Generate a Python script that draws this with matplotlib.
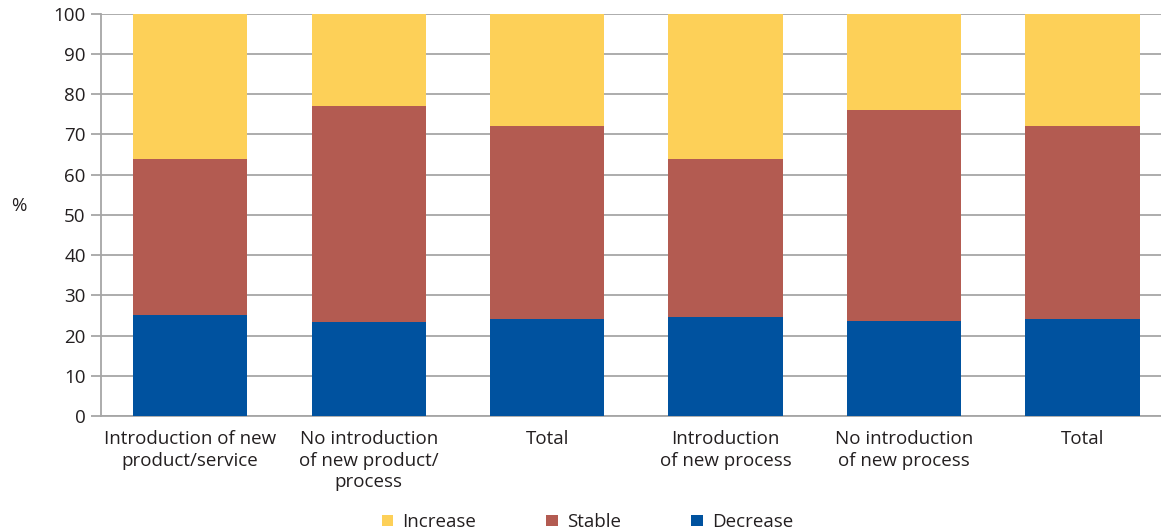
import matplotlib.pyplot as plt
import numpy as np

plt.rcParams['font.family'] = ['Open Sans', 'DejaVu Sans']

categories = ['Introduction of new\nproduct/service',
              'No introduction\nof new product/\nprocess',
              'Total',
              'Introduction\nof new process',
              'No introduction\nof new process',
              'Total']
decrease = [25, 23.5, 24, 24.5, 23.7, 24]
stable = [39, 53.5, 48, 39.3, 52.3, 48]
increase = [100 - d - s for d, s in zip(decrease, stable)]

c_inc = '#FDD058'
c_sta = '#B35B51'
c_dec = '#00529F'
grid_c = '#A6A6A6'
text_c = '#231F20'
fs = 13.5

fig = plt.figure(figsize=(11.61, 5.32), dpi=100)
ax = fig.add_axes([0.087, 0.218, 0.913, 0.756])

x = np.arange(len(categories))
w = 0.64
ax.bar(x, decrease, w, color=c_dec, label='Decrease', zorder=3)
ax.bar(x, stable, w, bottom=decrease, color=c_sta, label='Stable', zorder=3)
bot = [d + s for d, s in zip(decrease, stable)]
ax.bar(x, increase, w, bottom=bot, color=c_inc, label='Increase', zorder=3)

ax.set_ylim(0, 100)
ax.set_xlim(-0.5, 5.44)
ax.set_yticks(range(0, 101, 10))
ax.yaxis.grid(True, color=grid_c, linewidth=1.3)
ax.set_axisbelow(True)

ax.set_xticks(x)
ax.set_xticklabels(categories, fontsize=fs, color=text_c, va='top', linespacing=1.27)
ax.tick_params(axis='x', length=0, pad=10)
ax.tick_params(axis='y', length=7, width=1.3, color=grid_c, labelsize=fs,
               labelcolor=text_c, pad=4)

for s in ['top', 'right']:
    ax.spines[s].set_visible(False)
for s in ['left', 'bottom']:
    ax.spines[s].set_color(grid_c)
    ax.spines[s].set_linewidth(1.3)

ax.set_ylabel('%', rotation=0, fontsize=fs, color=text_c, labelpad=0)
ax.yaxis.set_label_coords(-0.078, 0.5)

h, l = ax.get_legend_handles_labels()
fig.legend(h[::-1], l[::-1], loc='lower center', ncol=3, frameon=False,
           bbox_to_anchor=(0.506, -0.03), fontsize=fs, handlelength=0.6,
           handleheight=0.6, handletextpad=0.5, columnspacing=3.75,
           labelcolor=text_c)

fig.savefig('out.png', dpi=100)
